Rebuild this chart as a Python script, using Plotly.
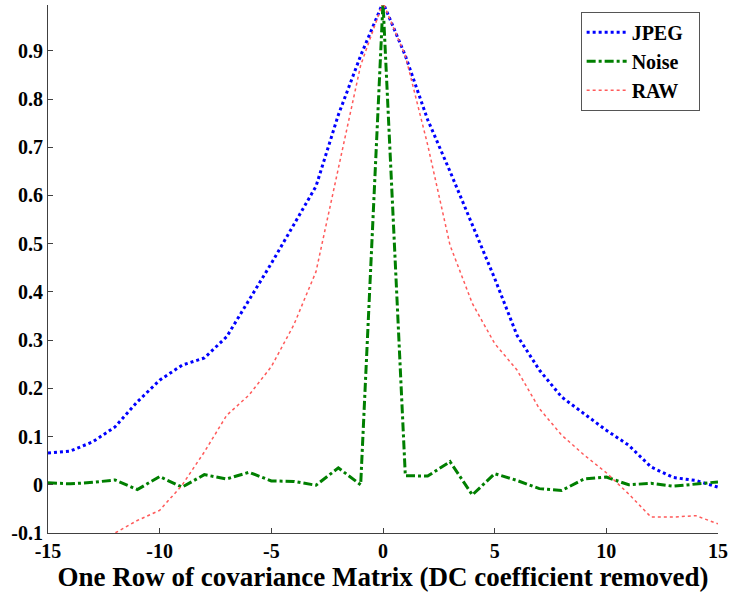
import plotly.graph_objects as go

x = list(range(-15, 16))

jpeg = [0.066, 0.070, 0.089, 0.120, 0.172, 0.217, 0.248, 0.263, 0.307, 0.383,
        0.459, 0.539, 0.619, 0.767, 0.890, 1.000,
        0.890, 0.757, 0.650, 0.539, 0.428, 0.310, 0.238, 0.182, 0.148, 0.113,
        0.082, 0.037, 0.015, 0.009, -0.005]

noise = [0.004, 0.002, 0.005, 0.010, -0.010, 0.017, -0.005, 0.021, 0.012, 0.026,
         0.008, 0.007, -0.001, 0.035, 0.000, 1.000,
         0.019, 0.018, 0.048, -0.021, 0.023, 0.009, -0.008, -0.012, 0.012, 0.016,
         0.000, 0.003, -0.003, 0.002, 0.006]

raw = [-0.150, -0.140, -0.120, -0.100, -0.074, -0.053, -0.001, 0.068, 0.144, 0.186,
       0.245, 0.331, 0.442, 0.657, 0.870, 1.000,
       0.890, 0.705, 0.497, 0.376, 0.293, 0.238, 0.158, 0.103, 0.062, 0.025,
       -0.019, -0.067, -0.067, -0.064, -0.081]

x_ticks = [-15, -10, -5, 0, 5, 10, 15]
x_tick_text = ["-15", "-10", "-5", "0", "5", "10", "15"]
y_ticks = [-0.1, 0, 0.1, 0.2, 0.3, 0.4, 0.5, 0.6, 0.7, 0.8, 0.9]
y_tick_text = ["-0.1", "0", "0.1", "0.2", "0.3", "0.4", "0.5", "0.6", "0.7", "0.8", "0.9"]

font_family = "Liberation Serif, Times New Roman, serif"

fig = go.Figure()
fig.add_trace(go.Scatter(x=x, y=jpeg, mode="lines", name="<b>JPEG</b>  ",
                         line=dict(color="#0000ff", width=3, dash="dot")))
fig.add_trace(go.Scatter(x=x, y=noise, mode="lines", name="<b>Noise</b>",
                         line=dict(color="#007f00", width=3, dash="dashdot")))
fig.add_trace(go.Scatter(x=x, y=raw, mode="lines", name="<b>RAW</b>",
                         line=dict(color="#ff5a5a", width=1.5, dash="dot")))

fig.update_layout(
    width=733, height=595,
    margin=dict(l=48, r=13, t=5, b=62),
    paper_bgcolor="white", plot_bgcolor="white",
    font=dict(family=font_family, color="black"),
    showlegend=True,
    legend=dict(x=0.795, y=0.987, xanchor="left", yanchor="top",
                bgcolor="white", bordercolor="#555555", borderwidth=1,
                font=dict(family=font_family, size=20, color="black"),
                tracegroupgap=0, itemwidth=40),
    xaxis=dict(range=[-15, 15], tickvals=x_ticks, ticktext=x_tick_text,
               showgrid=False, zeroline=False,
               showline=True, linecolor="#404040", linewidth=1,
               ticks="inside", ticklen=5, tickcolor="#404040",
               tickfont=dict(family=font_family, size=20, color="black", weight="bold"),
               title=dict(text="<b>One Row of covariance Matrix (DC coefficient removed)</b>",
                          font=dict(family=font_family, size=27, color="black"),
                          standoff=0)),
    yaxis=dict(range=[-0.1, 0.995], tickvals=y_ticks, ticktext=y_tick_text,
               showgrid=False, zeroline=False,
               showline=True, linecolor="#404040", linewidth=1,
               ticks="inside", ticklen=5, tickcolor="#404040",
               tickfont=dict(family=font_family, size=20, color="black", weight="bold")),
)

fig.write_html("out.html")
